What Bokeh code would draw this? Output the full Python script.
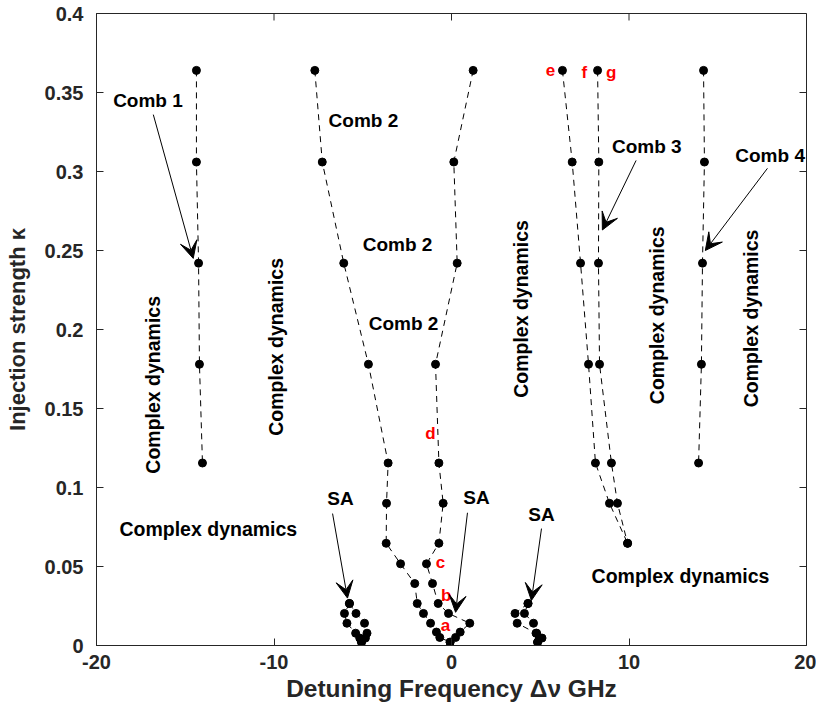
import math
from bokeh.plotting import figure
from bokeh.models import (ColumnDataSource, Label, Arrow, VeeHead,
                          FixedTicker, Range1d)
from bokeh.embed import file_html
from bokeh.resources import INLINE

# ---------------- data ----------------
K_TOP = [0.364, 0.306, 0.242, 0.178, 0.1155]
comb1_x = [-14.37, -14.37, -14.25, -14.2, -14.03]
comb4_x = [14.2, 14.25, 14.14, 14.08, 13.92]

e_k = [0.364, 0.306, 0.242, 0.178, 0.1155, 0.090, 0.0647]
e_x = [6.25, 6.80, 7.27, 7.72, 8.11, 8.90, 9.92]
f_x = [8.23, 8.30, 8.28, 8.34, 9.01, 9.35, 9.92]

comb2_k = [0.364, 0.306, 0.242, 0.178, 0.1155, 0.090, 0.0647, 0.0517,
           0.0392, 0.0266, 0.0203, 0.0141, 0.0085, 0.0051, 0.0021]
comb2_left_x = [-7.70, -7.28, -6.07, -4.68, -3.57, -3.66, -3.68, -2.87,
                -2.07, -1.93, -1.58, -1.18, -0.85, -0.66, -0.08]
comb2_right_x = [1.22, 0.13, 0.32, -0.90, -0.71, -0.47, -0.71, -1.41,
                 -1.07, -0.75, -0.17, 1.03, 0.49, 0.23, -0.08]

sa_k = [0.0266, 0.0203, 0.0141, 0.0078, 0.0047, 0.0021]
sa1_left_x = [-5.75, -6.03, -5.89, -5.40, -5.17, -5.07]
sa1_right_x = [-5.75, -5.38, -4.90, -4.76, -4.85, -5.07]
sa2_left_x = [4.31, 3.58, 3.70, 4.76, 4.95, 4.85]
sa2_right_x = [4.31, 4.11, 4.62, 4.80, 5.10, 4.85]

x_ticks = [-20, -10, 0, 10, 20]
x_tick_labels = ["-20", "-10", "0", "10", "20"]
y_ticks = [0, 0.05, 0.1, 0.15, 0.2, 0.25, 0.3, 0.35, 0.4]
y_tick_labels = ["0", "0.05", "0.1", "0.15", "0.2", "0.25", "0.3", "0.35", "0.4"]

FONT = "Liberation Sans"
AX = "#262626"
X0, X1, Y0, Y1 = -20, 20, 0, 0.4

p = figure(width=816, height=711, output_backend="svg", toolbar_location=None,
           x_range=Range1d(X0, X1), y_range=Range1d(Y0, Y1),
           min_border_left=96, min_border_right=10, min_border_top=13,
           min_border_bottom=66)
p.grid.visible = False
p.outline_line_color = AX
p.outline_line_width = 1

for ax in (p.xaxis[0], p.yaxis[0]):
    ax.axis_line_color = AX
    ax.major_tick_line_color = AX
    ax.major_tick_in = 7
    ax.major_tick_out = 0
    ax.minor_tick_line_color = None
    ax.major_label_text_font = FONT
    ax.major_label_text_font_style = "bold"
    ax.major_label_text_color = AX
    ax.major_label_text_font_size = "20px"
    ax.axis_label_text_font = FONT
    ax.axis_label_text_font_style = "bold"
    ax.axis_label_text_color = AX

p.xaxis[0].ticker = FixedTicker(ticks=x_ticks)
p.xaxis[0].major_label_overrides = dict(zip(x_ticks, x_tick_labels))
p.yaxis[0].ticker = FixedTicker(ticks=y_ticks)
p.yaxis[0].major_label_overrides = dict(zip(y_ticks, y_tick_labels))
p.xaxis[0].axis_label = "Detuning Frequency \u0394\u03bd GHz"
p.yaxis[0].axis_label = "Injection strength \u03ba"
p.xaxis[0].axis_label_text_font_size = "24.5px"
p.yaxis[0].axis_label_text_font_size = "22px"
p.xaxis[0].major_label_standoff = 9
p.yaxis[0].major_label_standoff = 13
p.xaxis[0].axis_label_standoff = 3
p.yaxis[0].axis_label_standoff = 12

# ticks on the top and right edges of the box (tick lengths: 7 px)
tick_dy = 7 * (Y1 - Y0) / 632
tick_dx = 7 * (X1 - X0) / 710
p.segment(x0=x_ticks, x1=x_ticks, y0=[Y1] * len(x_ticks),
          y1=[Y1 - tick_dy] * len(x_ticks), line_color=AX, line_width=1)
p.segment(x0=[X1] * len(y_ticks), x1=[X1 - tick_dx] * len(y_ticks),
          y0=y_ticks, y1=y_ticks, line_color=AX, line_width=1)

DASH = "6 5"
series = [
    (comb1_x, K_TOP), (comb4_x, K_TOP), (e_x, e_k), (f_x, e_k),
    (comb2_left_x, comb2_k), (comb2_right_x, comb2_k),
    (sa1_left_x, sa_k), (sa1_right_x, sa_k),
    (sa2_left_x, sa_k), (sa2_right_x, sa_k),
]
for xs, ks in series:
    src = ColumnDataSource(dict(x=xs, k=ks))
    p.line("x", "k", source=src, line_color="black", line_width=1, line_dash=DASH)
    p.scatter("x", "k", source=src, size=8, fill_color="black", line_color="black")

# ---------------- annotations ----------------
def lab(x, y, t, size="19px", color="black", angle=0.0):
    p.add_layout(Label(x=x, y=y, text=t, text_align="center", text_baseline="middle",
                       text_font=FONT, text_font_style="bold", text_font_size=size,
                       text_color=color, angle=angle))

lab(-17.1, 0.345, "Comb 1")
lab(-4.96, 0.332, "Comb 2")
lab(-3.04, 0.254, "Comb 2")
lab(-2.7, 0.204, "Comb 2")
lab(11.0, 0.316, "Comb 3")
lab(17.95, 0.310, "Comb 4")
V = math.pi / 2
CD = "19.5px"
lab(-16.8, 0.165, "Complex dynamics", size=CD, angle=V)
lab(-9.9, 0.189, "Complex dynamics", size=CD, angle=V)
lab(3.94, 0.213, "Complex dynamics", size=CD, angle=V)
lab(11.55, 0.209, "Complex dynamics", size=CD, angle=V)
lab(16.85, 0.207, "Complex dynamics", size=CD, angle=V)
lab(-13.7, 0.074, "Complex dynamics", size=CD)
lab(12.9, 0.044, "Complex dynamics", size=CD)
lab(-6.25, 0.093, "SA")
lab(1.41, 0.0937, "SA")
lab(5.07, 0.083, "SA")

RED = "#ff0000"
RS = "17px"
lab(-0.34, 0.0127, "a", size=RS, color=RED)
lab(-0.30, 0.0316, "b", size=RS, color=RED)
lab(-0.62, 0.0527, "c", size=RS, color=RED)
lab(-1.18, 0.134, "d", size=RS, color=RED)
lab(5.58, 0.364, "e", size=RS, color=RED)
lab(7.49, 0.3627, "f", size=RS, color=RED)
lab(9.0, 0.3627, "g", size=RS, color=RED)

def arrow(x0, y0, x1, y1):
    p.add_layout(Arrow(end=VeeHead(size=17, fill_color="black", line_color="black"),
                       x_start=x0, y_start=y0, x_end=x1, y_end=y1,
                       line_color="black", line_width=1))

arrow(-16.8, 0.336, -14.55, 0.245)
arrow(10.4, 0.307, 8.5, 0.263)
arrow(17.8, 0.302, 14.3, 0.250)
arrow(-6.7, 0.0835, -5.86, 0.030)
arrow(0.9, 0.084, 0.23, 0.021)
arrow(5.07, 0.074, 4.5, 0.0285)

open("out.html", "w").write(file_html(p, INLINE))
